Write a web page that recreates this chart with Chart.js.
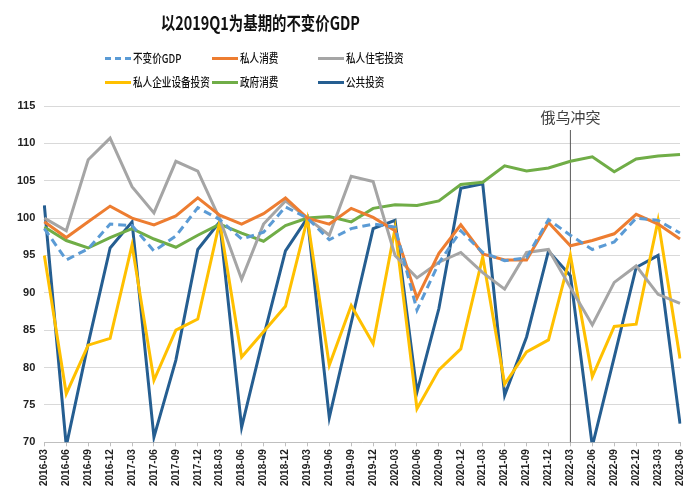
<!DOCTYPE html>
<html>
<head>
<meta charset="utf-8">
<script src="https://cdn.jsdelivr.net/npm/chart.js@4"></script>
<style>
  body { margin: 0; background: #fff; font-family: "Noto Sans CJK SC", sans-serif; }
  #wrap { position: relative; width: 700px; height: 499px; }
  #title { position: absolute; left: 60px; top: 10px; width: 400px; text-align: center; font-size: 18px; line-height: 24px; font-weight: bold; color: #111; white-space: nowrap; }
  #title span { display: inline-block; transform: scaleX(0.8); transform-origin: center center; }
  #legend { position: absolute; left: 0; top: 0; width: 700px; height: 100px; }
  .item { position: absolute; height: 16px; line-height: 16px; font-size: 12px; color: #111; font-weight: 500; white-space: nowrap; }
  .swatch { position: absolute; left: 0; top: 7px; width: 26px; height: 0; }
  .txt { position: absolute; left: 28px; top: 0; display: inline-block; transform: scaleX(0.8); transform-origin: left center; }
</style>
</head>
<body>
<div id="wrap">
  <canvas id="chart" width="700" height="499"></canvas>
  <div id="title"><span>以2019Q1为基期的不变价GDP</span></div>
  <div id="legend"></div>
</div>
<script>
const quarters = ['2016-03','2016-06','2016-09','2016-12','2017-03','2017-06','2017-09','2017-12',
  '2018-03','2018-06','2018-09','2018-12','2019-03','2019-06','2019-09','2019-12',
  '2020-03','2020-06','2020-09','2020-12','2021-03','2021-06','2021-09','2021-12',
  '2022-03','2022-06','2022-09','2022-12','2023-03','2023-06'];

const gdp = [98.6, 94.4, 95.9, 99.2, 99.0, 95.6, 97.6, 101.4, 99.8, 97.2,
  98.1, 101.5, 100.0, 97.1, 98.6, 99.2, 98.8, 87.7, 94.0, 98.3,
  95.4, 94.3, 94.7, 99.8, 97.7, 95.8, 96.8, 100.0, 99.7, 98.0];
const privConsumption = [99.5, 97.4, 99.5, 101.6, 100.0, 99.1, 100.3, 102.7, 100.4, 99.2,
  100.6, 102.7, 100.0, 99.2, 101.3, 100.1, 98.3, 89.3, 95.3, 99.1,
  95.2, 94.4, 94.4, 99.4, 96.3, 97.0, 97.9, 100.5, 99.2, 97.2];
const residentialInv = [100.0, 98.3, 107.8, 110.7, 104.2, 100.7, 107.6, 106.3, 99.9, 91.8,
  99.2, 102.3, 100.0, 97.7, 105.6, 104.9, 95.0, 92.0, 94.1, 95.4,
  92.7, 90.5, 95.4, 95.8, 90.7, 85.7, 91.4, 93.6, 89.8, 88.6];
const equipmentInv = [95.0, 76.5, 83.0, 83.9, 96.4, 78.3, 85.0, 86.5, 99.5, 81.4,
  84.8, 88.2, 99.9, 80.3, 88.3, 83.2, 98.6, 74.5, 79.7, 82.5,
  94.8, 77.8, 82.1, 83.7, 95.0, 78.8, 85.5, 85.8, 99.7, 81.2];
const govConsumption = [98.8, 97.0, 96.0, 97.4, 98.6, 97.2, 96.1, 97.7, 99.2, 98.0,
  96.9, 99.0, 100.0, 100.2, 99.5, 101.3, 101.8, 101.7, 102.3, 104.5,
  104.8, 107.0, 106.3, 106.7, 107.6, 108.2, 106.2, 107.9, 108.3, 108.5];
const publicInv = [101.7, 69.5, 83.2, 96.0, 99.5, 70.7, 81.0, 95.8, 99.5, 72.0,
  84.1, 95.6, 100.0, 73.3, 86.0, 98.6, 99.7, 76.7, 87.9, 104.0,
  104.6, 76.3, 84.1, 95.6, 92.3, 69.5, 81.4, 93.4, 95.0, 72.5];

const yTicks = [70, 75, 80, 85, 90, 95, 100, 105, 110, 115];
const eventIndex = 24;
const eventLabel = '俄乌冲突';

const series = [
  { label: '不变价GDP', data: gdp, color: '#5B9BD5', dash: [8, 5] },
  { label: '私人消费', data: privConsumption, color: '#ED7D31' },
  { label: '私人住宅投资', data: residentialInv, color: '#A5A5A5' },
  { label: '私人企业设备投资', data: equipmentInv, color: '#FFC000' },
  { label: '政府消费', data: govConsumption, color: '#70AD47' },
  { label: '公共投资', data: publicInv, color: '#255E91' }
];

// legend laid out as 3 columns x 2 rows, like the original
const legendPos = [[105, 50], [212, 50], [318, 50], [105, 74], [212, 74], [318, 74]];
const legend = document.getElementById('legend');
series.forEach((s, i) => {
  const el = document.createElement('div');
  el.className = 'item';
  el.style.left = legendPos[i][0] + 'px';
  el.style.top = legendPos[i][1] + 'px';
  const sw = document.createElement('span');
  sw.className = 'swatch';
  sw.style.borderTop = '3px ' + (s.dash ? 'dashed ' : 'solid ') + s.color;
  const tx = document.createElement('span');
  tx.className = 'txt';
  tx.textContent = s.label;
  el.appendChild(sw);
  el.appendChild(tx);
  legend.appendChild(el);
});

const eventLine = {
  id: 'eventLine',
  beforeDatasetsDraw(chart) {
    const ctx = chart.ctx;
    const x = chart.scales.x.getPixelForValue(eventIndex);
    ctx.save();
    ctx.strokeStyle = '#595959';
    ctx.lineWidth = 1;
    ctx.beginPath();
    ctx.moveTo(x, chart.chartArea.top + 24);
    ctx.lineTo(x, chart.chartArea.bottom);
    ctx.stroke();
    ctx.fillStyle = '#404040';
    ctx.font = '15px "Noto Sans CJK SC"';
    ctx.textAlign = 'center';
    ctx.textBaseline = 'middle';
    ctx.fillText(eventLabel, x, chart.chartArea.top + 11);
    ctx.restore();
  }
};

new Chart(document.getElementById('chart'), {
  type: 'line',
  data: {
    labels: quarters,
    datasets: series.map(s => ({
      label: s.label,
      data: s.data,
      borderColor: s.color,
      backgroundColor: s.color,
      borderWidth: 3,
      borderDash: s.dash || [],
      pointRadius: 0,
      tension: 0,
      fill: false
    }))
  },
  options: {
    responsive: false,
    animation: false,
    layout: { padding: { left: 8, right: 20, top: 106, bottom: 10 } },
    plugins: {
      legend: { display: false },
      tooltip: { enabled: false },
      title: { display: false }
    },
    scales: {
      x: {
        offset: false,
        grid: { display: true, drawOnChartArea: false, drawTicks: true, tickLength: 4, color: '#bfbfbf' },
        border: { color: '#bfbfbf' },
        ticks: {
          autoSkip: false, maxRotation: 90, minRotation: 90,
          color: '#222', font: { family: 'Liberation Sans', size: 10, weight: 'bold' }
        }
      },
      y: {
        min: 70, max: 115,
        afterBuildTicks(axis) { axis.ticks = yTicks.map(v => ({ value: v })); },
        grid: { color: '#d9d9d9', drawTicks: false },
        border: { display: false },
        ticks: {
          padding: 9,
          color: '#222', font: { family: 'Liberation Sans', size: 11, weight: 'bold' }
        }
      }
    }
  },
  plugins: [eventLine]
});
</script>
</body>
</html>
